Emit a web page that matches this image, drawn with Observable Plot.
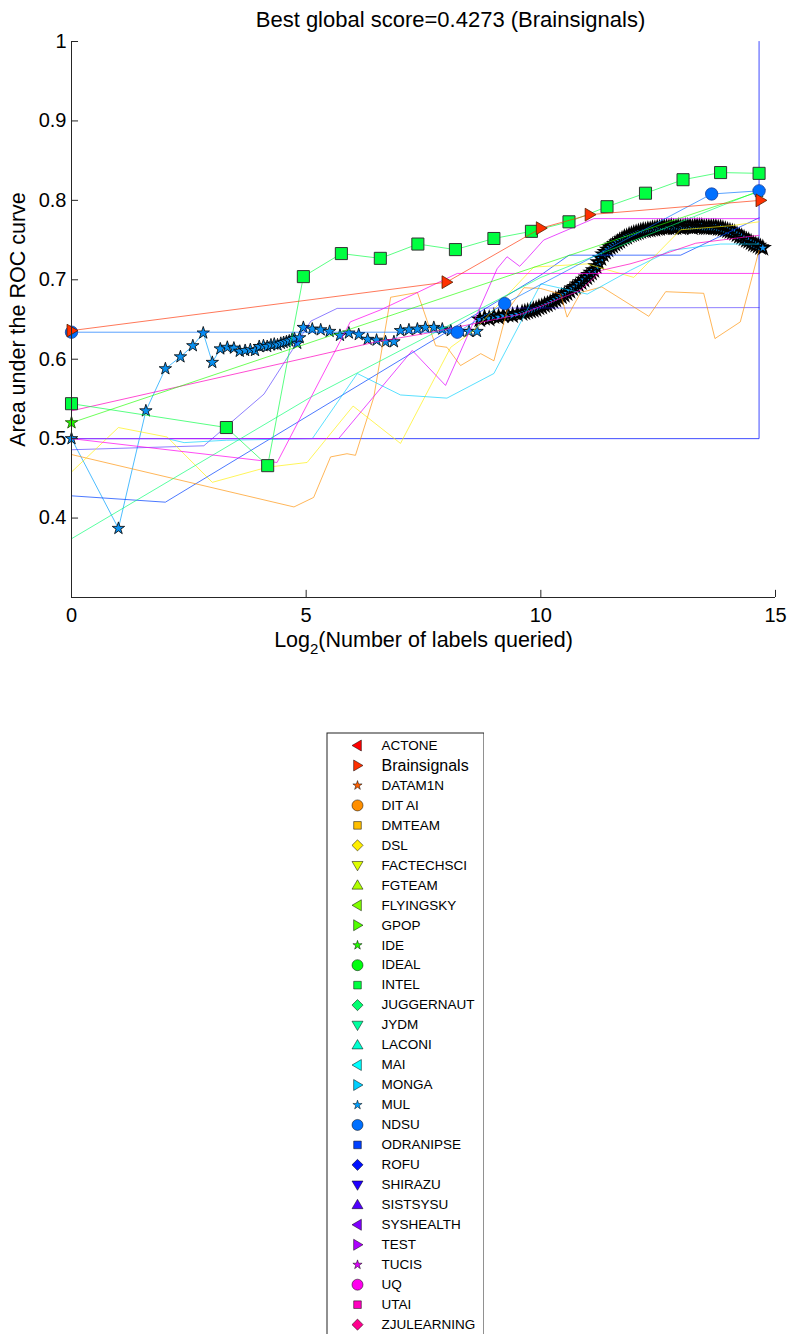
<!DOCTYPE html>
<html><head><meta charset="utf-8">
<script src="https://cdn.jsdelivr.net/npm/d3@7"></script>
<script src="https://cdn.jsdelivr.net/npm/@observablehq/plot@0.6"></script>
<style>
body{margin:0;background:#fff;}
#chart svg,#legend svg{display:block}
#legend{margin-left:326px;margin-top:32px;}
</style></head>
<body><div id="chart"></div><div id="legend"></div>
<script>
// ---------------- data ----------------
const teams = ["ACTONE","Brainsignals","DATAM1N","DIT AI","DMTEAM","DSL","FACTECHSCI","FGTEAM","FLYINGSKY","GPOP","IDE","IDEAL","INTEL","JUGGERNAUT","JYDM","LACONI","MAI","MONGA","MUL","NDSU","ODRANIPSE","ROFU","SHIRAZU","SISTSYSU","SYSHEALTH","TEST","TUCIS","UQ","UTAI","ZJULEARNING"];
const teamColors = ["#ff0000","#ff3000","#ff6000","#ff8f00","#ffbf00","#ffef00","#dfff00","#afff00","#80ff00","#50ff00","#20ff00","#00ff10","#00ff40","#00ff70","#00ff9f","#00ffcf","#00ffff","#00cfff","#009fff","#0070ff","#0040ff","#0010ff","#2000ff","#5000ff","#8000ff","#af00ff","#df00ff","#ff00ef","#ff00bf","#ff008f"];
const markerKinds = ["left","right","star","circle","square","diamond","down","up"];

const xTicks = [0, 5, 10, 15];
const yTicks = [0.4, 0.5, 0.6, 0.7, 0.8, 0.9, 1];

const brainX = [0, 7.99, 10.0, 11.04, 14.68];
const brainY = [0.636, 0.697, 0.765, 0.782, 0.800];

const intelX = [0, 3.30, 4.18, 4.94, 5.75, 6.58, 7.38, 8.18, 9.0, 9.80, 10.6, 11.41, 12.23, 13.03, 13.83, 14.65];
const intelY = [0.544, 0.514, 0.466, 0.704, 0.733, 0.727, 0.745, 0.738, 0.752, 0.761, 0.773, 0.792, 0.809, 0.826, 0.835, 0.834];

const ndsuX = [0, 8.22, 9.23, 13.64, 14.65];
const ndsuY = [0.634, 0.634, 0.670, 0.808, 0.812];

const ideX = [0, 14.65];
const ideY = [0.520, 0.811];

const juggernautX = [0, 5.09, 10.0, 14.65];
const juggernautY = [0.374, 0.552, 0.703, 0.812];

const ditaiX = [0, 4.74, 5.16, 5.52, 5.87, 6.05, 6.44, 6.8, 7.37, 7.76, 8.0, 8.29, 8.72, 9.0, 9.28, 9.64, 10.0, 10.42, 10.56, 10.85, 11.3, 12.3, 12.66, 13.47, 13.71, 14.25, 14.65];
const ditaiY = [0.480, 0.414, 0.426, 0.477, 0.481, 0.479, 0.552, 0.678, 0.684, 0.617, 0.615, 0.592, 0.607, 0.598, 0.661, 0.690, 0.689, 0.682, 0.653, 0.684, 0.691, 0.654, 0.685, 0.683, 0.626, 0.647, 0.737];

const dslX = [0, 1.0, 2.04, 3.0, 4.17, 5.02, 6.0, 7.01, 8.08, 8.57, 9.85, 10.99, 11.98, 12.98, 14.04, 14.65];
const dslY = [0.458, 0.514, 0.502, 0.445, 0.464, 0.470, 0.541, 0.494, 0.615, 0.636, 0.716, 0.720, 0.703, 0.763, 0.768, 0.773];

const mongaX = [0, 2.04, 2.4, 3.3, 5.13, 6.09, 7.01, 8.0, 9.0, 10.0, 10.99, 11.91, 12.76, 13.83, 14.65];
const mongaY = [0.500, 0.500, 0.495, 0.498, 0.500, 0.582, 0.555, 0.551, 0.582, 0.695, 0.682, 0.712, 0.737, 0.745, 0.745];

const rofuX = [0, 14.65, 14.65];
const rofuY = [0.500, 0.500, 1.000];

const odranipseX = [0, 2.0, 10.0, 10.6, 12.98, 14.65];
const odranipseY = [0.428, 0.420, 0.706, 0.731, 0.731, 0.778];

const shirazuX = [0, 2.82, 4.1, 5.1, 5.66, 14.65];
const shirazuY = [0.486, 0.491, 0.556, 0.648, 0.664, 0.665];

const tucisX = [0, 5.69, 7.26, 7.97, 9.07, 9.28, 9.55, 9.71, 10.06, 11.13, 14.65];
const tucisY = [0.500, 0.500, 0.611, 0.567, 0.714, 0.729, 0.717, 0.727, 0.750, 0.777, 0.777];

const uqX = [0, 4.38, 5.94, 6.58, 7.3, 8.22, 14.65];
const uqY = [0.500, 0.470, 0.647, 0.662, 0.682, 0.708, 0.708];

const utaiX = [0, 5.1, 6.5, 7.5, 8.6, 9.6, 10.85, 11.3, 11.9, 12.6, 13.3, 14.65];
const utaiY = [0.535, 0.603, 0.622, 0.632, 0.645, 0.657, 0.687, 0.712, 0.720, 0.732, 0.746, 0.756];

const mulX = [0, 1, 1.585, 2, 2.322, 2.585, 2.807, 3, 3.17, 3.32, 3.46, 3.585, 3.70, 3.81, 3.91, 4.0, 4.09, 4.17, 4.25, 4.32, 4.39, 4.46, 4.52, 4.58, 4.64, 4.70, 4.75, 4.81, 4.86, 4.94,
  5.13, 5.31, 5.50, 5.72, 5.91, 6.12, 6.31, 6.50, 6.69, 6.87, 7.01, 7.19, 7.37, 7.54, 7.72, 7.90, 8.08, 8.29, 8.47, 8.64,
  8.70, 8.80, 8.90, 9.00, 9.10, 9.20, 9.30, 9.40, 9.50, 9.60,
  9.66, 9.72, 9.78, 9.84, 9.90, 9.96, 10.02, 10.08, 10.14, 10.20, 10.26, 10.32, 10.38, 10.44, 10.50, 10.56, 10.62, 10.68, 10.74, 10.80, 10.86, 10.92, 10.98,
  11.03, 11.08, 11.13, 11.18, 11.23, 11.28, 11.33, 11.38, 11.43, 11.48, 11.53, 11.58, 11.63, 11.68, 11.73, 11.78, 11.83, 11.88, 11.93, 11.98,
  12.03, 12.08, 12.13, 12.18, 12.23, 12.28, 12.33, 12.38, 12.43, 12.48, 12.53, 12.58, 12.63, 12.68, 12.73, 12.78, 12.83, 12.88, 12.93, 12.98,
  13.03, 13.08, 13.13, 13.18, 13.23, 13.28, 13.33, 13.38, 13.43, 13.48, 13.53, 13.58, 13.63, 13.68, 13.73, 13.78, 13.83, 13.88, 13.93, 13.98,
  14.03, 14.08, 14.13, 14.18, 14.23, 14.28, 14.33, 14.38, 14.43, 14.48, 14.53, 14.58, 14.63, 14.68, 14.73];
const mulY = [0.500, 0.387, 0.535, 0.588, 0.603, 0.617, 0.633, 0.596, 0.613, 0.615, 0.614, 0.610, 0.611, 0.612, 0.611, 0.616, 0.617, 0.616, 0.618, 0.619, 0.618, 0.620, 0.621, 0.622, 0.623, 0.625, 0.626, 0.620, 0.627, 0.640,
  0.638, 0.637, 0.635, 0.630, 0.633, 0.631, 0.625, 0.624, 0.622, 0.622, 0.636, 0.637, 0.638, 0.640, 0.640, 0.638, 0.636, 0.635, 0.635, 0.635,
  0.650, 0.652, 0.651, 0.654, 0.653, 0.655, 0.656, 0.655, 0.657, 0.658,
  0.659, 0.660, 0.661, 0.662, 0.663, 0.665, 0.666, 0.668, 0.669, 0.671, 0.673, 0.675, 0.677, 0.679, 0.681, 0.683, 0.686, 0.689, 0.691, 0.694, 0.697, 0.700, 0.703,
  0.706, 0.709, 0.712, 0.717, 0.722, 0.727, 0.732, 0.735, 0.738, 0.741, 0.743, 0.745, 0.747, 0.749, 0.751, 0.753, 0.754, 0.756, 0.757, 0.758,
  0.759, 0.760, 0.761, 0.762, 0.762, 0.763, 0.763, 0.764, 0.764, 0.765, 0.765, 0.766, 0.766, 0.766, 0.766, 0.767, 0.766, 0.766, 0.767, 0.766,
  0.766, 0.767, 0.767, 0.767, 0.766, 0.767, 0.767, 0.767, 0.767, 0.766, 0.766, 0.766, 0.766, 0.766, 0.766, 0.765, 0.765, 0.764, 0.763, 0.762,
  0.761, 0.760, 0.759, 0.757, 0.755, 0.754, 0.752, 0.750, 0.749, 0.747, 0.745, 0.744, 0.743, 0.741, 0.740];

// ---------------- helpers ----------------
const pts = (xs, ys) => xs.map((x, i) => ({x, y: ys[i]}));
const col = name => teamColors[teams.indexOf(name)];
const tri = (ax, ay, bx, by, cx, cy) => ({draw(c, s) { const r = Math.sqrt(s / Math.PI); c.moveTo(ax*r, ay*r); c.lineTo(bx*r, by*r); c.lineTo(cx*r, cy*r); c.closePath(); }});
const triRight = tri(1, 0, -0.7, -1, -0.7, 1);
const triLeft = tri(-1, 0, 0.7, -1, 0.7, 1);
const triUp = tri(0, -1, -1, 0.7, 1, 0.7);
const triDown = tri(0, 1, -1, -0.7, 1, -0.7);
const line = (xs, ys, name, op = 0.65) => Plot.line(pts(xs, ys), {x: "x", y: "y", stroke: col(name), strokeWidth: 1, strokeOpacity: op});

const FONT = '"Liberation Sans", Arial, Helvetica, sans-serif';
const mulPts = pts(mulX, mulY);

const chart = Plot.plot({
  width: 789, height: 700,
  marginLeft: 71, marginRight: 14, marginTop: 41, marginBottom: 103,
  style: {fontFamily: FONT, fontSize: "20px", background: "white", color: "black"},
  x: {domain: [0, 15], ticks: xTicks, tickSize: 0, tickPadding: 10, label: null},
  y: {domain: [0.3, 1], ticks: yTicks, tickSize: 0, tickPadding: 5, tickFormat: d => d === 1 ? "1" : d.toFixed(1), label: null},
  marks: [
    // series lines
    line(rofuX, rofuY, "ROFU", 0.75),
    line(mulX, mulY, "MUL", 0.7),
    Plot.dot(mulPts.filter(d => d.x < 8.68), {x: "x", y: "y", symbol: "star", r: 3.9, fill: "#0a90f0", stroke: "#000", strokeWidth: 0.8}),
    Plot.dot(mulPts.filter(d => d.x >= 8.68), {x: "x", y: "y", symbol: "star", r: 4.1, fill: "#0a90f0", stroke: "#000", strokeWidth: 1.7}),
    line(odranipseX, odranipseY, "ODRANIPSE", 0.7),
    line(shirazuX, shirazuY, "SHIRAZU", 0.5),
    line(ditaiX, ditaiY, "DIT AI"),
    line(dslX, dslY, "DSL"),
    line(juggernautX, juggernautY, "JUGGERNAUT"),
    line(mongaX, mongaY, "MONGA"),
    line(tucisX, tucisY, "TUCIS", 0.7),
    line(uqX, uqY, "UQ", 0.7),
    line(utaiX, utaiY, "UTAI", 0.7),
    line(ideX, ideY, "IDE"),
    Plot.dot(pts(ideX, ideY), {x: "x", y: "y", symbol: "star", r: 3.9, fill: col("IDE"), stroke: "#1a4a00", strokeWidth: 0.8}),
    line(intelX, intelY, "INTEL"),
    Plot.dot(pts(intelX, intelY), {x: "x", y: "y", symbol: "square", r: 6.8, fill: col("INTEL"), stroke: "#333", strokeWidth: 1}),
    line(ndsuX, ndsuY, "NDSU"),
    Plot.dot(pts(ndsuX, ndsuY), {x: "x", y: "y", symbol: "circle", r: 6.2, fill: col("NDSU"), stroke: "#1a3f99", strokeWidth: 0.8}),
    line(brainX, brainY, "Brainsignals"),
    Plot.dot(pts(brainX, brainY), {x: "x", y: "y", symbol: triRight, r: 6.4, fill: col("Brainsignals"), stroke: "#552000", strokeWidth: 0.8}),
    // axes (MATLAB style, inward ticks)
    Plot.ruleX([0], {y1: 0.3, y2: 1, stroke: "#262626", strokeWidth: 1}),
    Plot.ruleY([0.3], {x1: 0, x2: 15, stroke: "#262626", strokeWidth: 1}),
    Plot.ruleY(yTicks, {x1: 0, x2: 0.15, stroke: "#262626"}),
    Plot.ruleX(xTicks, {y1: 0.3, y2: 0.309, stroke: "#262626"}),
    // title and labels
    Plot.text(["Best global score=0.4273 (Brainsignals)"], {frameAnchor: "top", lineAnchor: "middle", textAnchor: "middle", dx: 27, dy: -22, fontSize: 22, fill: "black"}),
    Plot.text(["Area under the ROC curve"], {frameAnchor: "left", lineAnchor: "middle", textAnchor: "middle", dx: -53, rotate: -90, fontSize: 21.5, fill: "black"}),
    Plot.text(["Log_2(Number of labels queried)"], {frameAnchor: "bottom", lineAnchor: "middle", textAnchor: "middle", dy: 43, fontSize: 21.5, fill: "black"})
  ]
});
document.getElementById("chart").appendChild(chart);

// subscript for the x label
const NS = "http://www.w3.org/2000/svg";
for (const t of chart.querySelectorAll("text")) {
  if (t.textContent === "Log_2(Number of labels queried)") {
    t.textContent = "";
    const a = document.createElementNS(NS, "tspan"); a.textContent = "Log";
    const b = document.createElementNS(NS, "tspan"); b.textContent = "2"; b.setAttribute("dy", "7"); b.setAttribute("font-size", "15");
    const c = document.createElementNS(NS, "tspan"); c.textContent = "(Number of labels queried)"; c.setAttribute("dy", "-7");
    t.append(a, b, c);
  }
}

// ---------------- legend ----------------
const legendRows = teams.map((name, i) => ({name, i, color: teamColors[i], kind: markerKinds[i % 8]}));
const symbolFor = {left: triLeft, right: triRight, star: "star", circle: "circle", square: "square", diamond: "diamond2", down: triDown, up: triUp};
const legendR = {left: 5.5, right: 5.5, up: 5.5, down: 5.5, star: 2.9, circle: 5.5, square: 4.3, diamond: 5.0};
const legend = Plot.plot({
  width: 158, height: 610,
  marginTop: 0, marginRight: 0, marginBottom: 0, marginLeft: 0,
  style: {fontFamily: FONT, background: "white"},
  x: {type: "linear", domain: [0, 1], range: [31, 55], axis: null},
  y: {type: "linear", domain: [0, 29], range: [13, 13 + 19.97 * 29], axis: null},
  color: {type: "identity"},
  marks: [
    Plot.frame({stroke: "#222", inset: 0.5}),
    ...Object.keys(symbolFor).map(k => Plot.dot(legendRows.filter(d => d.kind === k), {
      x: () => 0, y: "i", symbol: symbolFor[k], r: legendR[k], fill: "color", stroke: "#000", strokeWidth: 0.5
    })),
    Plot.text(legendRows.filter(d => d.name !== "Brainsignals"), {x: () => 1, y: "i", text: "name", textAnchor: "start", fontSize: 13.5, fill: "#000"}),
    Plot.text(legendRows.filter(d => d.name === "Brainsignals"), {x: () => 1, y: "i", text: "name", textAnchor: "start", fontSize: 16, fill: "#000"})
  ]
});
document.getElementById("legend").appendChild(legend);
</script>
</body></html>
